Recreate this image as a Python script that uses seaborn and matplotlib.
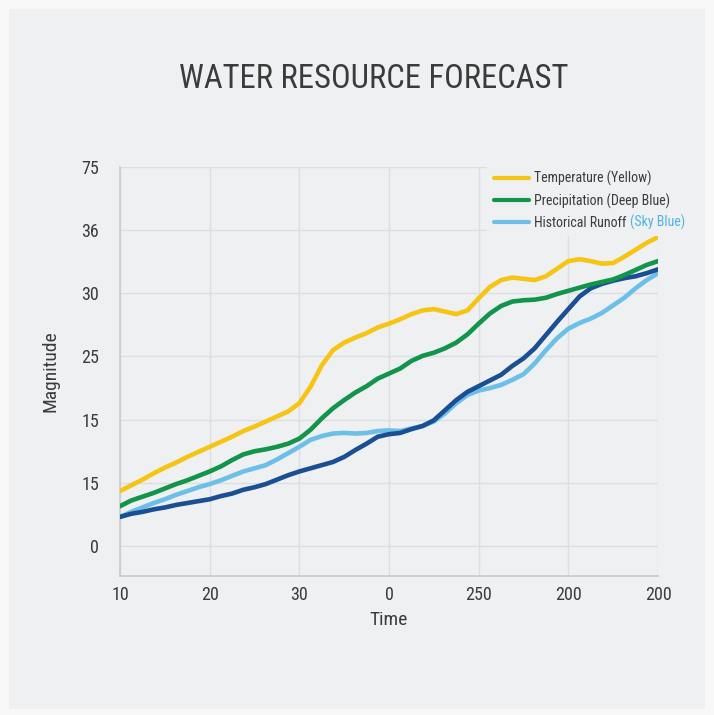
import matplotlib
matplotlib.use("Agg")
import matplotlib.pyplot as plt
import seaborn as sns
import pandas as pd
from matplotlib.patches import Rectangle
from matplotlib.lines import Line2D

time_pos = [0, 0.125, 0.25, 0.375, 0.5, 0.625, 0.75, 0.875, 1,
            1.125, 1.25, 1.375, 1.5, 1.625, 1.75, 1.875, 2,
            2.125, 2.25, 2.375, 2.5, 2.625, 2.75, 2.875, 3,
            3.125, 3.25, 3.375, 3.5, 3.625, 3.75, 3.875, 4,
            4.125, 4.25, 4.375, 4.5, 4.625, 4.75, 4.875, 5,
            5.125, 5.25, 5.375, 5.5, 5.625, 5.75, 5.875, 6]
temperature = [0.87, 0.96, 1.05, 1.15, 1.24, 1.32, 1.41, 1.49, 1.57,
               1.65, 1.73, 1.82, 1.89, 1.97, 2.05, 2.13, 2.26,
               2.52, 2.86, 3.10, 3.22, 3.30, 3.37, 3.46, 3.52,
               3.59, 3.67, 3.73, 3.75, 3.71, 3.67, 3.73, 3.92,
               4.10, 4.21, 4.25, 4.23, 4.21, 4.27, 4.39, 4.51,
               4.54, 4.51, 4.47, 4.48, 4.58, 4.69, 4.80, 4.89]
precipitation = [0.63, 0.72, 0.78, 0.84, 0.91, 0.98, 1.04, 1.11, 1.18,
                 1.26, 1.36, 1.45, 1.50, 1.53, 1.57, 1.62, 1.70,
                 1.84, 2.02, 2.18, 2.31, 2.43, 2.53, 2.65, 2.73,
                 2.81, 2.93, 3.01, 3.06, 3.13, 3.22, 3.35, 3.52,
                 3.68, 3.80, 3.87, 3.89, 3.90, 3.93, 3.99, 4.04,
                 4.09, 4.14, 4.18, 4.22, 4.29, 4.37, 4.45, 4.51]
runoff_sky = [0.46, 0.54, 0.61, 0.68, 0.74, 0.81, 0.87, 0.93, 0.98,
              1.04, 1.11, 1.18, 1.23, 1.28, 1.37, 1.47, 1.57,
              1.68, 1.74, 1.78, 1.79, 1.78, 1.79, 1.82, 1.83,
              1.82, 1.86, 1.90, 1.97, 2.10, 2.26, 2.39, 2.46,
              2.50, 2.55, 2.63, 2.72, 2.89, 3.10, 3.29, 3.44,
              3.53, 3.60, 3.69, 3.81, 3.93, 4.08, 4.21, 4.32]
runoff_deep = [0.46, 0.51, 0.54, 0.58, 0.61, 0.65, 0.68, 0.71, 0.74,
               0.79, 0.83, 0.89, 0.93, 0.98, 1.05, 1.12, 1.18,
               1.23, 1.28, 1.33, 1.41, 1.52, 1.62, 1.73, 1.77,
               1.79, 1.85, 1.90, 1.99, 2.15, 2.31, 2.44, 2.53,
               2.62, 2.71, 2.85, 2.97, 3.13, 3.34, 3.55, 3.75,
               3.95, 4.08, 4.15, 4.20, 4.24, 4.27, 4.32, 4.38]

x_tick_labels = ["10", "20", "30", "0", "250", "200", "200"]
y_tick_labels = ["0", "15", "15", "25", "30", "36", "75"]
legend_labels = ["Temperature (Yellow)", "Precipitation (Deep Blue)", "Historical Runoff"]
legend_extra = "(Sky Blue)"

BG = "#eef0f2"
TEXT = "#3b3b3b"
C_YEL = "#f6c514"
C_GRN = "#12944a"
C_DBL = "#1b4f93"
C_SKY = "#6cc0e8"
FAM = ["Roboto Condensed", "DejaVu Sans"]

sns.set_theme(style="whitegrid")
plt.rcParams["font.family"] = FAM

fig = plt.figure(figsize=(7.14, 7.15), dpi=100)
fig.patch.set_facecolor("#f8f8f8")
fig.patches.append(Rectangle((9 / 714, 6 / 715), 696 / 714, 700 / 715,
                             transform=fig.transFigure, facecolor=BG,
                             edgecolor="none", zorder=-10))

ax = fig.add_axes([120 / 714, 139 / 715, 538 / 714, 409 / 715])
ax.set_facecolor(BG)
ax.set_zorder(1)

df = pd.DataFrame({"t": time_pos, "Temperature": temperature,
                   "Precipitation": precipitation, "RunoffDeep": runoff_deep,
                   "RunoffSky": runoff_sky})

lw = 3.3
sns.lineplot(data=df, x="t", y="RunoffSky", color=C_SKY, lw=lw, ax=ax, zorder=3)
sns.lineplot(data=df, x="t", y="RunoffDeep", color=C_DBL, lw=lw, ax=ax, zorder=4)
sns.lineplot(data=df, x="t", y="Precipitation", color=C_GRN, lw=lw, ax=ax, zorder=5)
sns.lineplot(data=df, x="t", y="Temperature", color=C_YEL, lw=lw, ax=ax, zorder=6)
for ln in ax.get_lines():
    ln.set_solid_capstyle("round")
    ln.set_solid_joinstyle("round")

ax.set_xlim(0, 6)
ax.set_ylim(-0.475, 6.0)
ax.set_xticks(range(7))
ax.set_xticklabels(x_tick_labels)
ax.set_yticks(range(7))
ax.set_yticklabels(y_tick_labels)
ax.tick_params(axis="both", length=0, labelsize=13, labelcolor=TEXT)
ax.tick_params(axis="y", pad=15)
ax.tick_params(axis="x", pad=7)
ax.grid(True, color="#dcdee1", lw=1.0)
for s in ["top", "right"]:
    ax.spines[s].set_visible(False)
for s in ["left", "bottom"]:
    ax.spines[s].set_color("#c9cacc")
    ax.spines[s].set_linewidth(1.2)

ax.set_xlabel("Time", fontsize=14, color=TEXT, labelpad=5)
ax.set_ylabel("Magnitude", fontsize=14, color=TEXT, labelpad=16)

fig.text(374 / 714, 1 - 79 / 715, "WATER RESOURCE FORECAST",
         ha="center", va="center", fontsize=23.5, color=TEXT, family=FAM)

handles = [Line2D([], [], color=C_YEL, lw=3),
           Line2D([], [], color=C_GRN, lw=3),
           Line2D([], [], color=C_SKY, lw=3)]
leg = fig.legend(handles, legend_labels, loc="upper left",
                 bbox_to_anchor=(487 / 714, 1 - 164 / 715 - 0.1, 213 / 714, 0.1),
                 mode="expand", frameon=True, fancybox=False,
                 facecolor=BG, edgecolor="none", framealpha=1,
                 prop={"family": FAM, "size": 10},
                 handlelength=2.5, handletextpad=0.4, labelspacing=0.5,
                 borderpad=0.5, borderaxespad=0)
leg.set_zorder(5)
for t in leg.get_texts():
    t.set_color(TEXT)

fig.canvas.draw()
r = fig.canvas.get_renderer()
bb = leg.get_texts()[2].get_window_extent(r)
fig.text((bb.x1 + 3) / fig.bbox.width, bb.y0 / fig.bbox.height, legend_extra,
         ha="left", va="bottom", color="#4fb3e3", family=FAM, fontsize=10, zorder=6)

fig.savefig("out.png", dpi=100, facecolor=fig.get_facecolor())
